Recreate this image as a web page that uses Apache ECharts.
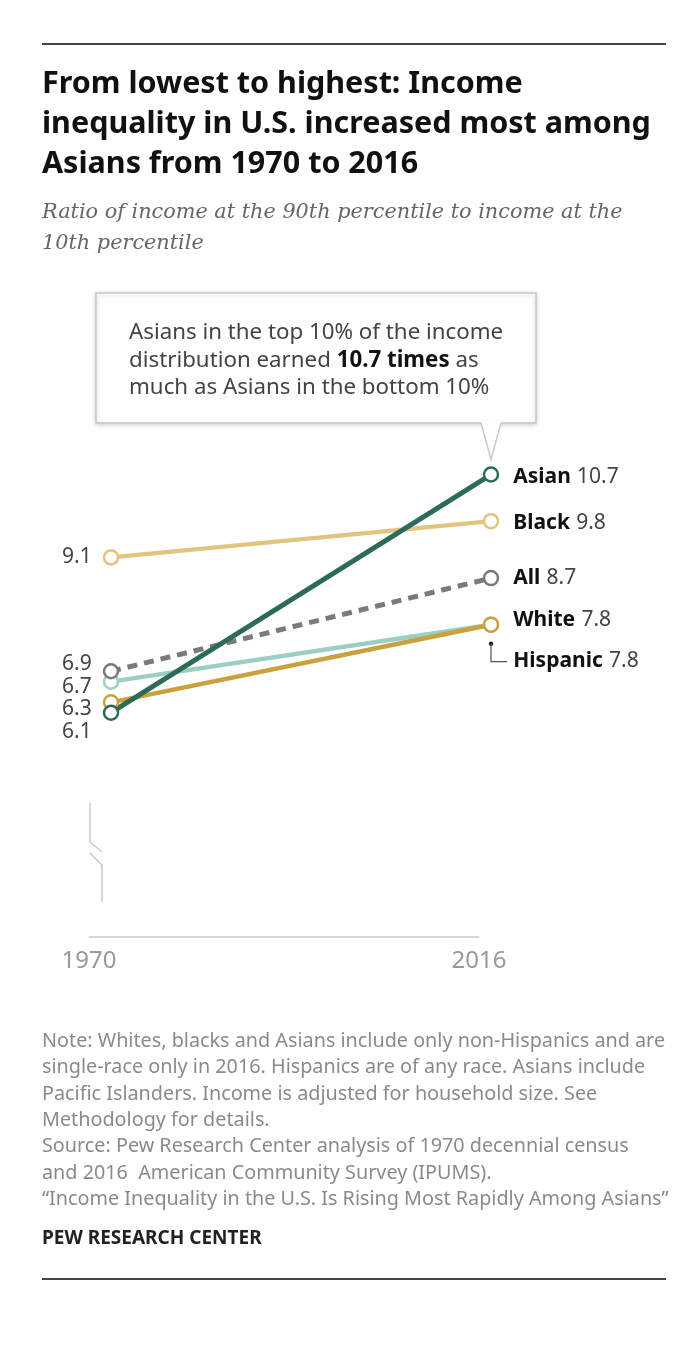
<!DOCTYPE html>
<html>
<head>
<meta charset="utf-8">
<script src="https://cdn.jsdelivr.net/npm/echarts@6/dist/echarts.min.js"></script>
<style>
  html, body { margin: 0; padding: 0; background: #fff; }
  #chart { width: 700px; height: 1358px; }
</style>
</head>
<body>
<div id="chart"></div>
<script>
// ---- data ----
const years = ['1970', '2016'];
const asian = [6.1, 10.7];
const black = [9.1, 9.8];
const allGroups = [6.9, 8.7];
const white = [6.3, 7.8];
const hispanic = [6.7, 7.8];
const groupNames = ['Black', 'Hispanic', 'White', 'All', 'Asian'];

const titleText = 'From lowest to highest: Income\ninequality in U.S. increased most among\nAsians from 1970 to 2016';
const subtitleText = 'Ratio of income at the 90th percentile to income at the\n10th percentile';
const noteText = 'Note: Whites, blacks and Asians include only non-Hispanics and are\nsingle-race only in 2016. Hispanics are of any race. Asians include\nPacific Islanders. Income is adjusted for household size. See\nMethodology for details.\nSource: Pew Research Center analysis of 1970 decennial census\nand 2016  American Community Survey (IPUMS).\n\u201cIncome Inequality in the U.S. Is Rising Most Rapidly Among Asians\u201d';
const sourceText = 'PEW RESEARCH CENTER';

// ---- styles ----
const SANS = '"Noto Sans", "Open Sans", "Liberation Sans", Arial, sans-serif';
const styles = {
  Black:    { color: '#e2c47e', width: 4.5, type: 'solid',   left: [0, 0],  right: [0, 2] },
  Hispanic: { color: '#9ccfc4', width: 4.5, type: 'solid',   left: [0, 5],  right: [0, 36] },
  White:    { color: '#c9a13f', width: 4.5, type: 'solid',   left: [0, 7],  right: [0, -5] },
  All:      { color: '#7a7a7a', width: 5,   type: [10, 7],   left: [0, -7], right: [0, 0] },
  Asian:    { color: '#2e6a58', width: 5,   type: 'solid',   left: [0, 19], right: [0, 2] }
};
const values = { Black: black, Hispanic: hispanic, White: white, All: allGroups, Asian: asian };

const labelRich = {
  n: { fontFamily: SANS, fontSize: 21, fontWeight: 'bold', color: '#111' },
  v: { fontFamily: SANS, fontSize: 21, color: '#444' },
  s: { fontFamily: SANS, fontSize: 12, color: '#444' }
};

function buildSeries(name) {
  const st = styles[name];
  const vals = values[name];
  return {
    name: name,
    type: 'line',
    xAxisIndex: 0, yAxisIndex: 0,
    symbol: 'circle',
    symbolSize: 14,
    silent: true,
    lineStyle: { color: st.color, width: st.width, type: st.type, cap: 'butt' },
    itemStyle: { color: '#fff', borderColor: st.color, borderWidth: 2.5 },
    data: vals.map(function (v, i) {
      return {
        value: v,
        label: {
          show: true,
          position: i === 0 ? 'left' : 'right',
          distance: i === 0 ? 11 : 14,
          offset: i === 0 ? st.left : st.right,
          rich: labelRich,
          formatter: i === 0 ? '{v|' + v.toFixed(1) + '}' : '{n|' + name + '}{s|  }{v|' + v.toFixed(1) + '}'
        }
      };
    })
  };
}

const chart = echarts.init(document.getElementById('chart'), null, { renderer: 'canvas' });

const option = {
  animation: false,
  backgroundColor: '#fff',
  title: [
    { text: titleText, left: 42, top: 64, padding: 0,
      textStyle: { fontFamily: SANS, fontSize: 30.5, fontWeight: 'bold', color: '#111', lineHeight: 40 } },
    { text: subtitleText, left: 42, top: 197, padding: 0,
      textStyle: { fontFamily: '"DejaVu Serif", "Liberation Serif", serif', fontStyle: 'italic', fontWeight: 'normal', fontSize: 20.8, color: '#666', lineHeight: 31 } },
    { text: noteText, left: 42, top: 1028, padding: 0,
      textStyle: { fontFamily: SANS, fontSize: 19.8, fontWeight: 'normal', color: '#8a8a8a', lineHeight: 26.4 } },
    { text: sourceText, left: 42, top: 1229, padding: 0,
      textStyle: { fontFamily: SANS, fontSize: 19, fontWeight: 'bold', color: '#222' } }
  ],
  grid: [
    { left: 111, right: 209, top: 459, bottom: 433 },
    { left: 89, right: 221, top: 800, bottom: 421 }
  ],
  xAxis: [
    { type: 'category', gridIndex: 0, data: years, boundaryGap: false, show: false },
    { type: 'category', gridIndex: 1, data: years, boundaryGap: false,
      axisLine: { show: true, lineStyle: { color: '#cccccc', width: 1.5 } },
      axisTick: { show: false },
      axisLabel: { color: '#999', fontFamily: SANS, fontSize: 24, margin: 12 } }
  ],
  yAxis: [
    { type: 'value', gridIndex: 0, min: 2, max: 11, show: false },
    { type: 'value', gridIndex: 1, min: 0, max: 1, show: false }
  ],
  series: groupNames.map(buildSeries)
};

chart.setOption(option);

// ---- decorations derived from the chart's own scales ----
const asianIdx = groupNames.indexOf('Asian');
const hispIdx = groupNames.indexOf('Hispanic');
const pAsian = chart.convertToPixel({ seriesIndex: asianIdx }, [1, asian[1]]);
const pHisp = chart.convertToPixel({ seriesIndex: hispIdx }, [1, hispanic[1]]);

const boxL = 96, boxT = 293, boxW = 440, boxH = 130;
const boxB = boxT + boxH;
const tipY = pAsian[1] - 15;

chart.setOption({
  graphic: [
    // top & bottom rules
    { type: 'line', shape: { x1: 42, y1: 44, x2: 666, y2: 44 }, style: { stroke: '#444', lineWidth: 2 } },
    { type: 'line', shape: { x1: 42, y1: 1279, x2: 666, y2: 1279 }, style: { stroke: '#444', lineWidth: 2 } },
    // callout box
    { type: 'rect', shape: { x: boxL, y: boxT, width: boxW, height: boxH },
      style: { fill: '#fff', stroke: '#c9c9c9', lineWidth: 1.5, shadowBlur: 4, shadowColor: 'rgba(0,0,0,0.18)', shadowOffsetX: 0, shadowOffsetY: 1 }, z: 10 },
    { type: 'polygon', shape: { points: [[pAsian[0] - 10, boxB - 1.5], [pAsian[0], tipY], [pAsian[0] + 10, boxB - 1.5]] },
      style: { fill: '#fff' }, z: 11 },
    { type: 'polyline', shape: { points: [[pAsian[0] - 10, boxB], [pAsian[0], tipY], [pAsian[0] + 10, boxB]] },
      style: { stroke: '#c9c9c9', lineWidth: 1.5, fill: null }, z: 11 },
    { type: 'text', left: 129, top: 319, z: 12,
      style: {
        text: 'Asians in the top 10% of the income\ndistribution earned {b|10.7 times} as\nmuch as Asians in the bottom 10%',
        fontFamily: SANS, fontSize: 22.3, fill: '#444', lineHeight: 27.5,
        rich: { b: { fontFamily: SANS, fontSize: 22.3, fontWeight: 'bold', fill: '#111', lineHeight: 27.5 } }
      } },
    // Hispanic label connector
    { type: 'circle', shape: { cx: pHisp[0], cy: pHisp[1] + 19, r: 2.2 }, style: { fill: '#222' }, z: 5 },
    { type: 'polyline', shape: { points: [[pHisp[0], pHisp[1] + 19], [pHisp[0], pHisp[1] + 37], [pHisp[0] + 16, pHisp[1] + 37]] },
      style: { stroke: '#555', lineWidth: 1.2, fill: null }, z: 5 },
    // axis break marker
    { type: 'polyline', shape: { points: [[90, 803], [90, 842], [102, 852]] }, style: { stroke: '#c8c8c8', lineWidth: 1.5, fill: null } },
    { type: 'polyline', shape: { points: [[90, 853], [102, 865], [102, 902]] }, style: { stroke: '#c8c8c8', lineWidth: 1.5, fill: null } }
  ]
});
</script>
</body>
</html>
